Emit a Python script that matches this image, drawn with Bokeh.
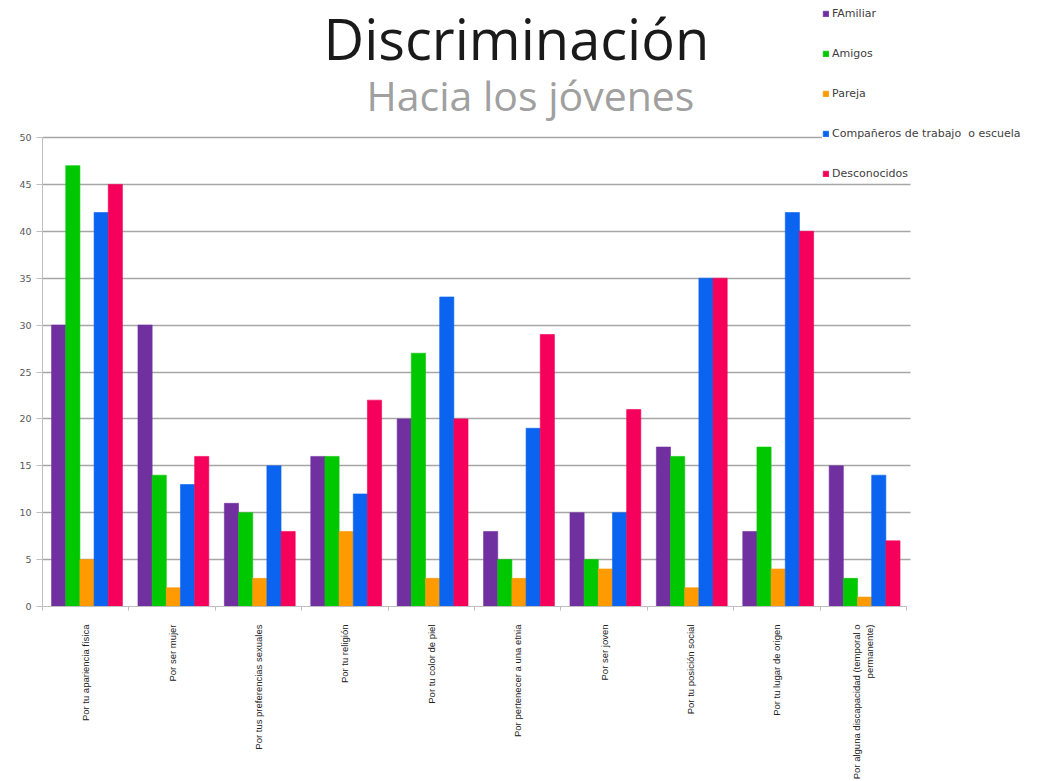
from bokeh.plotting import figure
from bokeh.models import (ColumnDataSource, Range1d, FixedTicker, Label, Legend, LegendItem, Grid)
from bokeh.embed import file_html
from bokeh.resources import INLINE

categories = [
    "Por tu apariencia física",
    "Por ser mujer",
    "Por tus preferencias sexuales",
    "Por tu religión",
    "Por tu color de piel",
    "Por pertenecer a una etnia",
    "Por ser joven",
    "Por tu posición social",
    "Por tu lugar de origen",
    "Por alguna discapacidad (temporal o\npermanente)",
]
familiar = [30, 30, 11, 16, 20, 8, 10, 17, 8, 15]
amigos = [47, 14, 10, 16, 27, 5, 5, 16, 17, 3]
pareja = [5, 2, 3, 8, 3, 3, 4, 2, 4, 1]
companeros = [42, 13, 15, 12, 33, 19, 10, 35, 42, 14]
desconocidos = [45, 16, 8, 22, 20, 29, 21, 35, 40, 7]
series_names = ["FAmiliar", "Amigos", "Pareja", "Compañeros de trabajo  o escuela", "Desconocidos"]
y_ticks = [0, 5, 10, 15, 20, 25, 30, 35, 40, 45, 50]
title_text = "Discriminación"
subtitle_text = "Hacia los jóvenes"

colors = ["#7030A0", "#00C800", "#FF9A00", "#0A64F0", "#F5005A"]
series = [familiar, amigos, pareja, companeros, desconocidos]

# category positions on a numeric axis (one unit per category)
cat_pos = [i + 0.5 for i in range(len(categories))]
cat_edges = [float(i) for i in range(len(categories) + 1)]

FRAME_W, FRAME_H = 997, 606
PX_PER_CAT = 86.4
PX_PER_UNIT = 9.38

p = figure(x_range=Range1d(0, FRAME_W / PX_PER_CAT), y_range=Range1d(0, FRAME_H / PX_PER_UNIT),
           frame_width=FRAME_W, frame_height=FRAME_H,
           output_backend="svg", toolbar_location=None,
           min_border_left=42, min_border_right=0, min_border_top=0, min_border_bottom=0)
p.outline_line_color = None
p.background_fill_color = "white"

renderers = []
bw = 0.164
offsets = [-0.313, -0.149, 0.015, 0.179, 0.343]
for vals, c, off in zip(series, colors, offsets):
    src = ColumnDataSource(dict(x=[cp + off for cp in cat_pos], top=vals))
    r = p.vbar(x="x", top="top", width=bw, source=src,
               fill_color=c, line_color=c, line_alpha=0.6)
    renderers.append(r)

# y axis
p.yaxis.ticker = FixedTicker(ticks=y_ticks)
p.yaxis.bounds = (0, 50)
p.yaxis.major_label_text_font = "DejaVu Sans"
p.yaxis.major_label_text_font_size = "9.5px"
p.yaxis.major_label_text_color = "#595959"
p.yaxis.axis_line_color = "#BFBFBF"
p.yaxis.major_tick_line_color = "#BFBFBF"
p.yaxis.minor_tick_line_color = None
p.yaxis.major_tick_out = 6
p.yaxis.major_tick_in = 0

# x axis with category labels
p.xaxis.ticker = FixedTicker(ticks=cat_pos, minor_ticks=cat_edges)
p.xaxis.major_label_overrides = {cp: c for cp, c in zip(cat_pos, categories)}
p.xaxis.bounds = (0, len(categories))
p.xaxis.major_label_orientation = 1.5708
p.xaxis.major_label_text_font = "Liberation Sans"
p.xaxis.major_label_text_font_size = "9.5px"
p.xaxis.major_label_text_color = "#222222"
p.xaxis.major_label_standoff = 14
p.xaxis.major_tick_out = 0
p.xaxis.major_tick_in = 0
p.xaxis.axis_line_color = "#BFBFBF"
p.xaxis.major_tick_line_color = None
p.xaxis.minor_tick_line_color = "#BFBFBF"
p.xaxis.minor_tick_out = 4
p.xaxis.minor_tick_in = 0

p.xgrid.grid_line_color = None
p.ygrid.ticker = FixedTicker(ticks=y_ticks)
if "cross_bounds" in Grid.properties():
    p.ygrid.cross_bounds = (0, 10.05)
    p.ygrid.grid_line_color = "#A6A6A6"
    p.ygrid.grid_line_width = 1.3
else:
    p.ygrid.grid_line_color = None
    p.segment(x0=[0] * len(y_ticks), x1=[10.05] * len(y_ticks), y0=y_ticks, y1=y_ticks,
              line_color="#A6A6A6", line_width=1.3, level="underlay")

# titles
p.add_layout(Label(x=(323 - 42) / PX_PER_CAT, y=(606 - 37) / PX_PER_UNIT, text=title_text,
                   text_font="Open Sans", text_font_size="56px", text_color="#1a1a1a",
                   text_align="left", text_baseline="alphabetic"))
p.add_layout(Label(x=(366 - 42) / PX_PER_CAT, y=(606 - 94) / PX_PER_UNIT, text=subtitle_text,
                   text_font="Open Sans", text_font_size="41px", text_color="#A0A0A0",
                   text_align="left", text_baseline="alphabetic"))

legend = Legend(items=[LegendItem(label=n, renderers=[r]) for n, r in zip(series_names, renderers)],
                location=(780, 426), glyph_width=7, glyph_height=7, label_height=12,
                spacing=27, padding=8, margin=0, border_line_color=None,
                background_fill_color="white", background_fill_alpha=1.0,
                label_text_font="DejaVu Sans",
                label_text_font_size="11px", label_text_color="#404040", label_standoff=3)
p.add_layout(legend, "center")

open("out.html", "w").write(file_html(p, INLINE))
